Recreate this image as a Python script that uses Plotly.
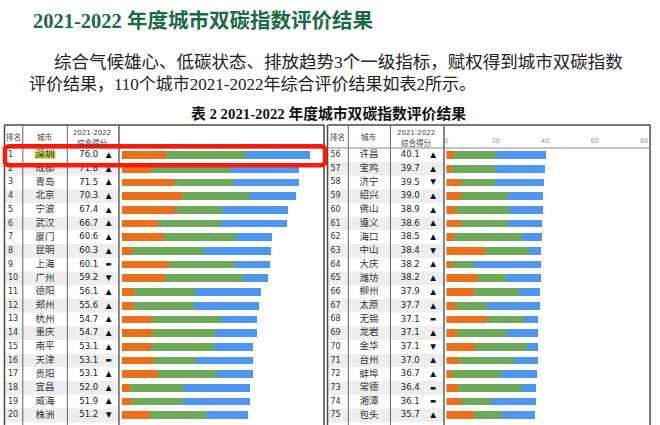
import plotly.graph_objects as go

# ---------------- data ----------------
left_ranks = list(range(1, 21))
left_cities = ["深圳", "成都", "青岛", "北京", "宁波", "武汉", "厦门", "昆明", "上海", "广州",
               "德阳", "郑州", "杭州", "重庆", "南平", "天津", "贵阳", "宜昌", "威海", "株洲"]
left_scores = [76.0, 71.8, 71.5, 70.3, 67.4, 66.7, 60.6, 60.3, 60.1, 59.2,
               56.1, 55.6, 54.7, 54.7, 53.1, 53.1, 53.1, 52.0, 51.9, 51.2]
left_trend = ["up", "up", "up", "up", "up", "up", "up", "up", "flat", "down",
              "up", "up", "up", "up", "up", "flat", "up", "up", "up", "down"]
left_ambition = [17.9, 11.9, 21.2, 24.4, 21.6, 14.5, 16.9, 3.9, 19.0, 17.6,
                 4.7, 4.7, 12.2, 12.7, 11.7, 12.9, 14.5, 3.1, 4.1, 11.3]
left_lowcarbon = [31.8, 31.9, 24.2, 27.1, 18.9, 25.7, 29.1, 29.2, 26.9, 31.4,
                  24.9, 24.4, 28.0, 24.9, 25.4, 16.9, 24.0, 21.9, 20.8, 23.2]
left_emission = [26.3, 28.0, 26.1, 18.8, 26.9, 26.5, 14.6, 27.2, 14.2, 10.2,
                 26.5, 26.5, 14.5, 17.1, 16.0, 23.3, 14.6, 27.0, 27.0, 16.7]

right_ranks = list(range(56, 76))
right_cities = ["许昌", "宝鸡", "济宁", "绍兴", "佛山", "遵义", "海口", "中山", "大庆", "潍坊",
                "柳州", "太原", "无锡", "龙岩", "金华", "台州", "蚌埠", "常德", "湘潭", "包头"]
right_scores = [40.1, 39.7, 39.5, 39.0, 38.9, 38.6, 38.5, 38.4, 38.2, 38.2,
                37.9, 37.7, 37.1, 37.1, 37.1, 37.0, 36.7, 36.4, 36.1, 35.7]
right_trend = ["up", "up", "down", "up", "up", "up", "up", "down", "up", "up",
               "up", "up", "flat", "up", "down", "up", "up", "flat", "flat", "up"]
right_ambition = [2.9, 2.3, 6.0, 6.0, 3.9, 6.0, 3.1, 15.7, 2.1, 12.5,
                  11.0, 3.9, 16.6, 4.3, 11.7, 5.1, 2.4, 4.8, 6.0, 11.3]
right_lowcarbon = [17.0, 17.7, 13.7, 19.0, 21.3, 19.0, 27.6, 17.6, 9.1, 11.7,
                   18.4, 12.7, 14.9, 20.1, 20.9, 22.3, 19.8, 25.2, 11.9, 11.3]
right_emission = [20.2, 19.7, 19.8, 14.0, 13.7, 13.6, 7.8, 5.1, 27.0, 14.0,
                  8.5, 21.1, 5.6, 12.7, 4.5, 9.6, 14.5, 6.4, 18.2, 13.1]

axis_ticks = [0, 20, 40, 60, 80]
highlight_city = "深圳"

title_text = "2021-2022 年度城市双碳指数评价结果"
para_line1 = "综合气候雄心、低碳状态、排放趋势3个一级指标，赋权得到城市双碳指数"
para_line2 = "评价结果，110个城市2021-2022年综合评价结果如表2所示。"
table_title = "表 2 2021-2022 年度城市双碳指数评价结果"
header_rank, header_city, header_score1, header_score2 = "排名", "城市", "2021-2022", "综合得分"

# ---------------- layout helpers ----------------
W, H = 660, 425
ROW0, ROWH = 155.0, 13.7


def px(x):
    return x / W


def py(y):
    return 1 - y / H


y_top = (0 - ROW0) / ROWH
y_bot = (H - ROW0) / ROWH

ORANGE, GREEN, BLUE = "#E8701E", "#6DA85B", "#4F97EE"
SYMBOL = {"up": "▲", "down": "▼", "flat": "▬"}
SYMSIZE = {"up": 7.5, "down": 7.5, "flat": 6.5}
CJK = "Noto Sans CJK SC"
NUM = "DejaVu Sans"

panels = [
    dict(xa="x", ranks=left_ranks, cities=left_cities, scores=left_scores, trend=left_trend,
         segs=[left_ambition, left_lowcarbon, left_emission],
         x0=2.5, c1=21, c2=66, c3=118, x1=325, rank_x=6, city_x=43.5, score_x=87.5, arrow_x=107.5,
         head_rank_x=11.5),
    dict(xa="x2", ranks=right_ranks, cities=right_cities, scores=right_scores, trend=right_trend,
         segs=[right_ambition, right_lowcarbon, right_emission],
         x0=328.5, c1=349.5, c2=392, c3=446, x1=654, rank_x=331.5, city_x=370.5, score_x=412, arrow_x=435,
         head_rank_x=339),
]

fig = go.Figure()
shapes = []
annotations = []


def ann(text, x, y, font, xanchor="center"):
    return dict(text=text, x=px(x), y=py(y), xref="paper", yref="paper", xanchor=xanchor,
                yanchor="middle", showarrow=False, font=font)


for p in panels:
    n = len(p["ranks"])
    rows = list(range(n))
    # stripes
    for i in rows:
        if i % 2 == 1:
            shapes.append(dict(type="rect", xref="x3", yref="y", x0=p["x0"], x1=p["c3"],
                               y0=i - 0.5, y1=i + 0.5, fillcolor="#eeeeee",
                               line=dict(width=0), layer="below"))
    # highlight
    for i, c in enumerate(p["cities"]):
        if c == highlight_city:
            shapes.append(dict(type="rect", xref="x3", yref="y", x0=p["city_x"] - 10.5,
                               x1=p["city_x"] + 10.5, y0=i - 0.27, y1=i + 0.27,
                               fillcolor="#B9CC2C", line=dict(width=0), layer="below"))
    # bars
    for name, vals, col in zip(["气候雄心", "低碳状态", "排放趋势"], p["segs"], [ORANGE, GREEN, BLUE]):
        fig.add_trace(go.Bar(x=vals, y=rows, orientation="h", xaxis=p["xa"], yaxis="y",
                             marker=dict(color=col, line=dict(width=0)), width=0.56,
                             name=name, showlegend=False, hoverinfo="x+name"))
    # table text
    fig.add_trace(go.Scatter(x=[p["rank_x"]] * n, y=rows, text=[str(r) for r in p["ranks"]],
                             mode="text", textposition="middle right", xaxis="x3", yaxis="y",
                             textfont=dict(family=NUM, size=8, color="#333"), showlegend=False,
                             hoverinfo="skip"))
    fig.add_trace(go.Scatter(x=[p["city_x"]] * n, y=rows, text=p["cities"],
                             mode="text", textposition="middle center", xaxis="x3", yaxis="y",
                             textfont=dict(family=CJK, size=9.5, color="#333"), showlegend=False,
                             hoverinfo="skip"))
    fig.add_trace(go.Scatter(x=[p["score_x"]] * n, y=rows, text=[f"{s:.1f}" for s in p["scores"]],
                             mode="text", textposition="middle center", xaxis="x3", yaxis="y",
                             textfont=dict(family=NUM, size=8.5, color="#222"), showlegend=False,
                             hoverinfo="skip"))
    fig.add_trace(go.Scatter(x=[p["arrow_x"]] * n, y=rows, text=[SYMBOL[t] for t in p["trend"]],
                             mode="text", textposition="middle center", xaxis="x3", yaxis="y",
                             textfont=dict(family=NUM, size=[SYMSIZE[t] for t in p["trend"]], color="#111"),
                             showlegend=False, hoverinfo="skip"))
    # table structure
    line_dark = dict(color="#4a4a4a", width=1.5)
    line_mid = dict(color="#666", width=1)
    shapes += [
        dict(type="line", xref="paper", yref="paper", x0=px(p["x0"]), x1=px(p["x0"]), y0=py(125), y1=py(440), line=line_dark),
        dict(type="line", xref="paper", yref="paper", x0=px(p["x1"]), x1=px(p["x1"]), y0=py(125), y1=py(440), line=line_dark),
        dict(type="line", xref="paper", yref="paper", x0=px(p["x0"]), x1=px(p["x1"]), y0=py(125), y1=py(125), line=line_dark),
        dict(type="line", xref="paper", yref="paper", x0=px(p["c1"]), x1=px(p["c1"]), y0=py(125), y1=py(440), line=line_mid),
        dict(type="line", xref="paper", yref="paper", x0=px(p["c2"]), x1=px(p["c2"]), y0=py(125), y1=py(440), line=line_mid),
        dict(type="line", xref="paper", yref="paper", x0=px(p["c3"]), x1=px(p["c3"]), y0=py(125), y1=py(440), line=dict(color="#6a6a6a", width=1.6)),
        dict(type="line", xref="paper", yref="paper", x0=px(p["x0"]), x1=px(p["x1"]), y0=py(148), y1=py(148), line=dict(color="#888", width=1)),
    ]
    # headers
    hf = dict(family=CJK, size=7.5, color="#444")
    sc = (p["c2"] + p["c3"]) / 2 - 1
    annotations += [
        ann(header_rank, p["head_rank_x"], 136, hf),
        ann(header_city, p["city_x"], 136, hf),
        ann(header_score1, sc, 132.5, dict(family=NUM, size=7, color="#444")),
        ann(header_score2, sc, 143, hf),
    ]

# red rounded highlight box (paper coordinates)
bx0, bx1, by0, by1, r = 3, 326, 146.3, 165.2, 4


def P(x, y):
    return f"{px(x):.5f},{py(y):.5f}"


red_path = (f"M {P(bx0 + r, by0)} L {P(bx1 - r, by0)} Q {P(bx1, by0)} {P(bx1, by0 + r)} "
            f"L {P(bx1, by1 - r)} Q {P(bx1, by1)} {P(bx1 - r, by1)} L {P(bx0 + r, by1)} "
            f"Q {P(bx0, by1)} {P(bx0, by1 - r)} L {P(bx0, by0 + r)} Q {P(bx0, by0)} {P(bx0 + r, by0)} Z")
shapes.append(dict(type="path", path=red_path, xref="paper", yref="paper",
                   line=dict(color="#FF1A0A", width=4.5), layer="above"))

SERIF = "Liberation Serif, Noto Sans CJK SC"
annotations += [
    ann(f"<b>{title_text}</b>", 29, 20, dict(family=SERIF, size=20.5, color="#1B6A45"), "left"),
    ann(para_line1, 50, 62, dict(family=SERIF, size=17.5, color="#222"), "left"),
    ann(para_line2, 25, 85, dict(family=SERIF, size=17, color="#222"), "left"),
    ann(f"<b>{table_title}</b>", 329, 113, dict(family=SERIF, size=14.8, color="#111"), "center"),
]

bar_axis = dict(range=[0, 80], tickvals=axis_ticks, side="top", anchor="free",
                ticks="", showgrid=False, zeroline=False, showline=False, fixedrange=True,
                tickfont=dict(family=NUM, size=6.5, color="#9a9a9a"))

fig.update_layout(
    width=W, height=H, margin=dict(l=0, r=0, t=0, b=0),
    paper_bgcolor="white", plot_bgcolor="rgba(0,0,0,0)",
    barmode="stack", showlegend=False,
    xaxis=dict(domain=[px(121), px(320.5)], position=py(150), **bar_axis),
    xaxis2=dict(domain=[px(448.5), px(648)], position=py(144.5), **bar_axis),
    xaxis3=dict(domain=[0, 1], range=[0, W], visible=False, anchor="y", fixedrange=True),
    yaxis=dict(domain=[0, 1], range=[y_bot, y_top], visible=False, fixedrange=True),
    shapes=shapes, annotations=annotations,
)

fig.write_html("out.html", config={"displayModeBar": False},
               post_script="document.body.style.margin='0';")
